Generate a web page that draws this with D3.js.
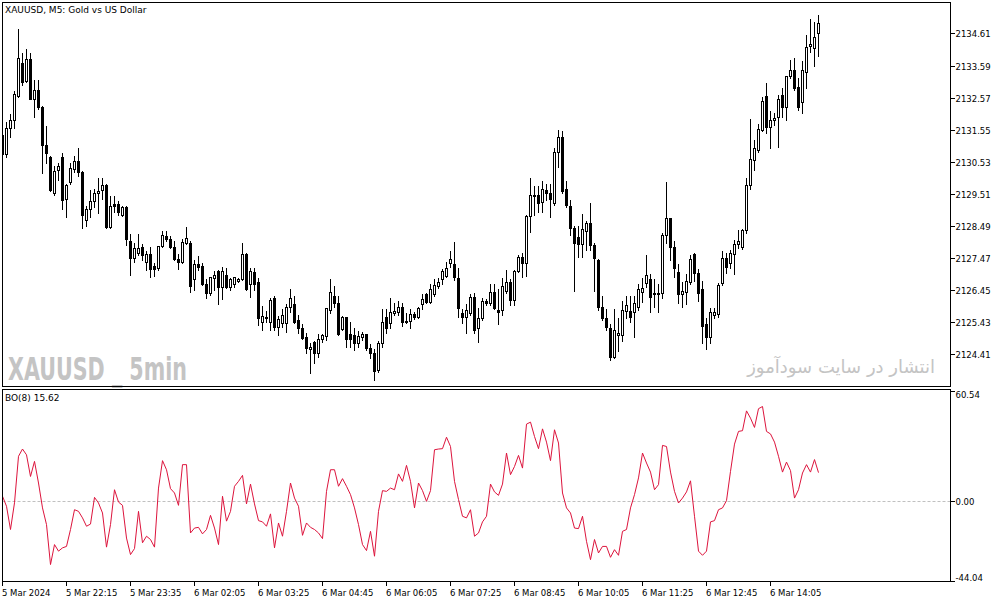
<!DOCTYPE html>
<html>
<head>
<meta charset="utf-8">
<script src="https://cdn.jsdelivr.net/npm/d3@7"></script>
<style>
    body { margin: 0; background: #fff; }
    svg text { font-family: "DejaVu Sans", Tahoma, sans-serif; fill: #000; }
</style>
</head>
<body>
<svg id="chart" width="1003" height="603"></svg>
<script>
// XAUUSD M5 candles (prices)
const openP = [
    2131.38, 2130.78, 2131.60, 2131.86, 2132.62, 2133.67, 2133.10, 2133.79, 2132.52, 2132.81,
    2132.27, 2131.06, 2130.68, 2129.54, 2130.27, 2130.68, 2129.35, 2129.89, 2130.30, 2130.55,
    2130.20, 2128.68, 2129.03, 2129.28, 2129.54, 2129.63, 2129.79, 2128.46, 2129.19, 2129.19,
    2128.84, 2129.09, 2128.01, 2127.47, 2127.63, 2127.82, 2127.34, 2127.60, 2127.22, 2127.15,
    2127.85, 2128.17, 2128.07, 2127.82, 2127.44, 2127.34, 2127.95, 2127.95, 2126.80, 2127.28,
    2127.22, 2126.64, 2126.36, 2126.83, 2127.06, 2126.55, 2126.93, 2126.55, 2126.64, 2126.74,
    2126.80, 2127.60, 2126.64, 2127.03, 2126.71, 2125.44, 2125.56, 2125.44, 2126.20, 2125.28,
    2125.40, 2125.40, 2125.91, 2126.01, 2125.50, 2125.25, 2124.96, 2124.58, 2124.80, 2124.45,
    2124.90, 2124.99, 2125.82, 2126.26, 2126.04, 2125.21, 2125.60, 2125.06, 2125.02, 2124.77,
    2124.96, 2125.06, 2124.61, 2124.45, 2123.91, 2124.77, 2125.60, 2125.40, 2125.72, 2125.75,
    2125.91, 2125.47, 2125.47, 2125.69, 2125.60, 2126.01, 2126.33, 2126.07, 2126.33, 2126.58,
    2126.80, 2126.90, 2127.31, 2127.28, 2126.83, 2125.72, 2125.60, 2125.72, 2126.23, 2125.25,
    2125.56, 2126.10, 2126.04, 2126.39, 2125.82, 2125.82, 2126.42, 2126.71, 2126.14, 2127.06,
    2127.50, 2127.31, 2128.81, 2129.44, 2129.47, 2129.25, 2129.63, 2129.54, 2129.22, 2130.84,
    2131.32, 2129.66, 2129.12, 2128.42, 2128.14, 2127.92, 2128.33, 2128.58, 2127.88, 2127.41,
    2125.91, 2125.56, 2125.25, 2124.32, 2125.02, 2125.02, 2125.79, 2125.79, 2125.75, 2125.91,
    2126.39, 2126.68, 2126.80, 2126.36, 2126.33, 2126.36, 2128.20, 2128.74, 2127.82, 2127.03,
    2126.33, 2126.39, 2126.71, 2127.60, 2126.99, 2126.49, 2125.37, 2124.96, 2125.66, 2125.69,
    2126.68, 2127.47, 2127.31, 2127.60, 2127.92, 2127.82, 2128.36, 2129.79, 2130.59, 2130.90,
    2131.54, 2132.62, 2131.63, 2131.86, 2131.95, 2132.65, 2132.27, 2133.25, 2133.45, 2132.91,
    2132.43, 2133.38, 2134.21, 2134.14, 2134.62
];
const highP = [
    2131.44, 2131.82, 2132.08, 2132.81, 2134.78, 2134.02, 2134.14, 2134.02, 2133.16, 2133.16,
    2132.33, 2131.70, 2130.74, 2130.43, 2130.52, 2130.84, 2129.85, 2130.52, 2130.74, 2131.00,
    2130.27, 2129.16, 2129.66, 2129.70, 2130.05, 2130.05, 2129.85, 2129.47, 2129.47, 2129.31,
    2129.16, 2129.16, 2128.27, 2127.98, 2128.27, 2127.95, 2127.73, 2127.85, 2127.34, 2127.88,
    2128.36, 2128.36, 2128.20, 2128.04, 2127.63, 2128.11, 2128.49, 2128.04, 2127.44, 2127.57,
    2127.34, 2126.83, 2126.90, 2127.09, 2127.12, 2127.22, 2127.19, 2126.87, 2126.90, 2126.87,
    2127.98, 2127.66, 2127.19, 2127.19, 2126.87, 2125.98, 2125.82, 2126.23, 2126.30, 2125.66,
    2125.88, 2126.04, 2126.52, 2126.30, 2125.69, 2125.40, 2125.12, 2124.80, 2124.87, 2125.09,
    2125.09, 2125.91, 2126.83, 2126.61, 2126.30, 2125.66, 2125.63, 2125.47, 2125.28, 2125.18,
    2125.15, 2125.09, 2124.77, 2124.61, 2124.87, 2125.88, 2125.88, 2126.23, 2126.07, 2126.14,
    2126.07, 2125.75, 2125.88, 2125.79, 2125.94, 2126.36, 2126.39, 2126.68, 2126.83, 2126.87,
    2127.15, 2127.38, 2127.73, 2128.01, 2127.19, 2125.88, 2126.04, 2126.36, 2126.39, 2125.91,
    2126.23, 2126.20, 2126.68, 2126.68, 2126.52, 2126.87, 2127.12, 2126.83, 2127.12, 2127.60,
    2127.66, 2128.87, 2130.05, 2129.79, 2129.79, 2129.95, 2129.85, 2129.85, 2131.00, 2131.57,
    2131.54, 2129.95, 2129.35, 2128.52, 2128.52, 2128.90, 2128.68, 2129.25, 2127.98, 2127.47,
    2126.30, 2125.88, 2125.40, 2125.88, 2125.60, 2126.14, 2126.30, 2126.30, 2126.30, 2126.68,
    2126.87, 2127.60, 2126.99, 2126.83, 2126.68, 2128.30, 2129.92, 2128.77, 2128.04, 2127.31,
    2126.74, 2126.99, 2127.60, 2127.66, 2127.15, 2126.77, 2125.60, 2125.91, 2125.91, 2126.71,
    2127.73, 2127.66, 2127.76, 2128.07, 2128.39, 2128.42, 2130.05, 2131.92, 2131.25, 2131.76,
    2132.62, 2133.06, 2132.17, 2132.11, 2132.68, 2132.91, 2133.29, 2133.79, 2133.86, 2133.22,
    2133.76, 2134.59, 2135.10, 2135.00, 2135.22
];
const lowP = [
    2130.71, 2130.68, 2131.32, 2131.60, 2132.59, 2132.97, 2133.06, 2132.52, 2131.95, 2132.21,
    2130.17, 2130.49, 2129.60, 2129.47, 2129.95, 2129.03, 2128.77, 2129.82, 2130.20, 2130.08,
    2128.42, 2128.49, 2128.77, 2129.09, 2128.90, 2129.35, 2128.42, 2128.42, 2128.93, 2128.84,
    2128.81, 2127.88, 2126.93, 2127.34, 2127.57, 2127.41, 2127.09, 2126.87, 2126.90, 2127.09,
    2127.82, 2128.01, 2127.79, 2127.41, 2127.12, 2127.31, 2127.92, 2126.39, 2126.45, 2127.09,
    2126.61, 2126.20, 2126.30, 2126.45, 2126.01, 2126.17, 2126.52, 2126.45, 2126.55, 2126.71,
    2126.77, 2126.45, 2126.23, 2126.45, 2125.34, 2125.18, 2125.44, 2125.18, 2125.18, 2125.02,
    2125.28, 2125.12, 2125.75, 2125.40, 2125.09, 2124.90, 2124.45, 2123.82, 2124.13, 2124.32,
    2124.80, 2124.87, 2125.72, 2125.91, 2125.02, 2125.18, 2124.64, 2124.64, 2124.55, 2124.64,
    2124.87, 2124.55, 2124.29, 2123.59, 2123.85, 2124.64, 2125.09, 2125.25, 2125.66, 2125.66,
    2125.31, 2125.40, 2125.25, 2125.53, 2125.56, 2125.85, 2126.04, 2126.04, 2126.26, 2126.52,
    2126.64, 2126.87, 2127.19, 2126.77, 2125.60, 2125.40, 2125.09, 2125.66, 2125.09, 2124.80,
    2125.50, 2125.98, 2125.98, 2125.85, 2125.37, 2125.66, 2126.36, 2125.98, 2125.98, 2127.03,
    2126.87, 2126.90, 2128.30, 2128.84, 2128.93, 2128.93, 2129.31, 2128.77, 2129.16, 2130.36,
    2129.54, 2129.09, 2128.20, 2126.42, 2127.50, 2127.50, 2127.73, 2127.73, 2126.42, 2125.82,
    2125.50, 2125.18, 2124.23, 2124.29, 2124.52, 2124.83, 2125.56, 2125.44, 2124.96, 2125.82,
    2126.07, 2126.55, 2125.75, 2125.91, 2125.75, 2126.20, 2127.95, 2127.41, 2126.87, 2126.04,
    2125.91, 2126.01, 2126.64, 2126.74, 2126.10, 2124.77, 2124.58, 2124.77, 2125.56, 2125.60,
    2126.61, 2126.99, 2127.15, 2126.96, 2127.79, 2127.76, 2128.27, 2129.66, 2130.27, 2130.84,
    2131.51, 2131.44, 2130.97, 2131.70, 2131.00, 2131.95, 2131.86, 2133.19, 2132.81, 2132.17,
    2132.08, 2132.87, 2134.02, 2133.57, 2133.89
];
const closeP = [
    2130.78, 2131.60, 2131.86, 2132.68, 2133.83, 2133.06, 2133.79, 2132.52, 2132.81, 2132.27,
    2131.06, 2130.81, 2129.63, 2130.24, 2130.39, 2129.31, 2129.79, 2130.33, 2130.55, 2130.20,
    2128.84, 2129.03, 2129.28, 2129.54, 2129.60, 2129.79, 2128.46, 2129.12, 2129.12, 2128.93,
    2129.09, 2128.07, 2127.47, 2127.79, 2127.79, 2127.57, 2127.60, 2127.12, 2127.12, 2127.85,
    2128.20, 2128.07, 2127.82, 2127.44, 2127.34, 2127.98, 2128.11, 2126.58, 2127.28, 2127.19,
    2126.64, 2126.36, 2126.87, 2126.93, 2126.55, 2127.06, 2126.55, 2126.80, 2126.87, 2126.80,
    2127.60, 2126.49, 2127.06, 2126.64, 2125.56, 2125.63, 2125.60, 2126.14, 2125.28, 2125.53,
    2125.66, 2125.91, 2126.20, 2125.44, 2125.25, 2124.93, 2124.61, 2124.64, 2124.45, 2124.90,
    2125.02, 2125.88, 2126.39, 2126.04, 2125.06, 2125.60, 2124.90, 2124.90, 2124.77, 2124.99,
    2125.06, 2124.61, 2124.45, 2123.88, 2124.77, 2125.44, 2125.25, 2125.75, 2125.79, 2125.91,
    2125.44, 2125.44, 2125.69, 2125.60, 2125.88, 2126.17, 2126.07, 2126.49, 2126.61, 2126.71,
    2127.06, 2127.15, 2127.44, 2126.87, 2125.88, 2125.60, 2125.82, 2126.23, 2125.18, 2125.56,
    2126.10, 2126.04, 2126.39, 2125.88, 2125.75, 2126.58, 2126.71, 2126.14, 2127.06, 2127.50,
    2127.31, 2128.81, 2129.47, 2129.47, 2129.22, 2129.66, 2129.54, 2129.35, 2130.84, 2131.32,
    2129.60, 2129.16, 2128.42, 2127.95, 2127.92, 2128.39, 2128.58, 2127.88, 2127.47, 2125.91,
    2125.56, 2125.28, 2124.32, 2125.18, 2125.09, 2125.82, 2125.98, 2125.60, 2126.04, 2126.49,
    2126.52, 2126.93, 2126.23, 2126.33, 2126.36, 2128.20, 2128.74, 2127.82, 2127.15, 2126.33,
    2126.42, 2126.74, 2127.44, 2126.99, 2126.36, 2125.31, 2124.96, 2125.75, 2125.75, 2126.61,
    2127.47, 2127.19, 2127.63, 2127.92, 2128.01, 2128.36, 2129.79, 2130.62, 2130.97, 2131.57,
    2132.46, 2131.63, 2131.86, 2131.92, 2132.52, 2132.27, 2133.25, 2133.45, 2132.87, 2132.27,
    2133.45, 2134.18, 2134.27, 2134.49, 2134.94
];

// BO(8) oscillator, one value per candle
const boValues = [
    2.6, -2.9, -15.7, -1.0, 24.6, 28.6, 25.4, 13.5, 21.8, 9.9,
    -3.8, -13.0, -35.0, -24.0, -27.6, -25.8, -25.0, -15.7, -4.8, -5.7,
    -9.3, -13.9, -12.7, 2.0, -1.1, -6.6, -25.4, -13.0, 6.2, -0.6,
    -2.4, -20.4, -29.5, -26.2, -5.7, -23.0, -19.4, -21.2, -25.4, 7.1,
    22.2, 17.2, 6.8, 4.4, -2.4, 20.0, 20.0, -17.6, -14.9, -14.5,
    -18.1, -15.7, -7.9, -14.9, -24.0, 2.6, -11.1, -5.7, 8.1, 10.8,
    14.1, -1.6, 9.3, -1.6, -10.8, -11.5, -13.9, -7.1, -25.8, -12.1,
    -19.4, -5.7, 9.9, 1.6, -2.9, -18.9, -12.1, -14.5, -15.7, -17.6,
    -20.7, 5.3, 17.2, 17.2, 8.1, 12.3, 8.1, 3.5, -3.8, -13.0,
    -24.0, -27.3, -16.7, -30.4, -5.7, 5.7, 5.3, 7.1, 6.2, 14.9,
    10.8, 19.6, 10.8, -3.8, 9.9, 5.7, -0.2, 5.7, 28.2, 28.6,
    28.8, 35.1, 30.0, 10.8, 0.8, -8.4, -9.3, -4.8, -19.4, -17.6,
    -11.5, -8.4, 9.3, 5.0, 3.1, 9.3, 26.4, 14.5, 19.0, 25.1,
    18.1, 42.3, 43.4, 35.5, 28.8, 39.7, 32.4, 22.2, 39.2, 31.9,
    4.4, -3.8, -6.6, -14.9, -15.2, -8.4, -22.2, -32.3, -21.2, -28.6,
    -25.0, -25.0, -31.0, -26.8, -29.9, -16.7, -15.7, -3.8, 3.5, 12.7,
    26.4, 20.9, 15.9, 6.2, 9.0, 30.6, 30.0, 15.9, 5.3, -1.1,
    1.6, 5.0, 11.1, -8.4, -27.6, -29.9, -27.6, -11.5, -10.8, -4.8,
    -3.8, 0.2, 16.3, 31.3, 38.3, 38.7, 49.6, 45.6, 40.5, 50.8,
    52.0, 38.3, 36.9, 32.4, 24.6, 15.9, 21.4, 16.7, 1.6, 6.2,
    15.4, 20.0, 15.9, 22.8, 15.62
];

const priceTicks = [2134.61, 2133.59, 2132.57, 2131.55, 2130.53, 2129.51, 2128.49, 2127.47, 2126.45, 2125.43, 2124.41];
const boTicks = [60.54, 0, -44.04];
const timeLabels = [
    "5 Mar 2024", "5 Mar 22:15", "5 Mar 23:35", "6 Mar 02:05", "6 Mar 03:25", "6 Mar 04:45",
    "6 Mar 06:05", "6 Mar 07:25", "6 Mar 08:45", "6 Mar 10:05", "6 Mar 11:25", "6 Mar 12:45", "6 Mar 14:05"
];
const barsPerLabel = 16;

const left = 2.5, right = 950.5;
const mainTop = 2.5, mainBottom = 386.5;
const subTop = 389.5, subBottom = 581.5;

const svg = d3.select("#chart");

let x = d3.scaleLinear()
    .domain([0, closeP.length - 1])
    .range([2.5, 2.5 + 4 * (closeP.length - 1)]);

let y = d3.scaleLinear()
    .domain([2123.37, 2135.61])
    .range([387, 2]);

let yBo = d3.scaleLinear()
    .domain([-44.04, 60.54])
    .range([581, 391]);

svg.append("rect")
    .attr("width", 1003)
    .attr("height", 603)
    .attr("fill", "#fff");

let defs = svg.append("defs");
defs.append("clipPath").attr("id", "clipMain")
    .append("rect")
    .attr("x", left).attr("y", mainTop)
    .attr("width", right - left).attr("height", mainBottom - mainTop);
defs.append("clipPath").attr("id", "clipSub")
    .append("rect")
    .attr("x", left).attr("y", subTop)
    .attr("width", right - left).attr("height", subBottom - subTop);

// watermarks
svg.append("text")
    .attr("x", 8)
    .attr("y", 380)
    .attr("textLength", 179)
    .attr("lengthAdjust", "spacingAndGlyphs")
    .style("font-family", "'Liberation Sans Narrow', 'DejaVu Sans Condensed', sans-serif")
    .style("font-weight", "bold")
    .style("font-size", "32px")
    .style("fill", "#c4c4c4")
    .text("XAUUSD _ 5min");

svg.append("text")
    .attr("x", 935)
    .attr("y", 373)
    .attr("text-anchor", "end")
    .style("font-size", "18px")
    .style("fill", "#c4c4c4")
    .text("انتشار در سایت سودآموز");

// candles
let bars = d3.range(closeP.length).map(i => ({
    i: i, o: openP[i], h: highP[i], l: lowP[i], c: closeP[i]
}));

let candles = svg.append("g")
    .attr("clip-path", "url(#clipMain)")
    .attr("shape-rendering", "crispEdges");

candles.selectAll(".wick")
    .data(bars)
    .enter()
    .append("line")
    .attr("class", "wick")
    .attr("x1", d => x(d.i))
    .attr("x2", d => x(d.i))
    .attr("y1", d => Math.round(y(d.h)) + 0.5)
    .attr("y2", d => Math.round(y(d.l)) + 0.5)
    .attr("stroke", "#000");

candles.selectAll(".body")
    .data(bars)
    .enter()
    .append("path")
    .attr("class", "body")
    .attr("d", function (d) {
        let top = Math.round(y(Math.max(d.o, d.c))) + 0.5;
        let bot = Math.round(y(Math.min(d.o, d.c))) + 0.5;
        let cx = x(d.i);
        return `M${cx - 1},${top}H${cx + 1}V${bot}H${cx - 1}Z`;
    })
    .attr("fill", d => d.c >= d.o ? "#fff" : "#000")
    .attr("stroke", "#000");

// indicator
svg.append("line")
    .attr("x1", left).attr("x2", right)
    .attr("y1", Math.round(yBo(0)) + 0.5).attr("y2", Math.round(yBo(0)) + 0.5)
    .attr("stroke", "#c0c0c0")
    .attr("stroke-dasharray", "3,2");

let boLine = d3.line()
    .x((d, i) => x(i))
    .y(d => yBo(d));

svg.append("path")
    .datum(boValues)
    .attr("clip-path", "url(#clipSub)")
    .attr("d", boLine)
    .attr("fill", "none")
    .attr("stroke", "#dc143c")
    .attr("stroke-width", 1);

// frames
let frames = svg.append("g").attr("shape-rendering", "crispEdges");
frames.append("rect")
    .attr("x", left).attr("y", mainTop)
    .attr("width", right - left).attr("height", mainBottom - mainTop)
    .attr("fill", "none").attr("stroke", "#000");
frames.append("rect")
    .attr("x", left).attr("y", subTop)
    .attr("width", right - left).attr("height", subBottom - subTop)
    .attr("fill", "none").attr("stroke", "#000");

// price axis
let priceAxis = svg.append("g").attr("shape-rendering", "crispEdges");
priceTicks.forEach(function (p) {
    let yy = Math.round(y(p)) + 0.5;
    priceAxis.append("line")
        .attr("x1", right).attr("x2", right + 4)
        .attr("y1", yy).attr("y2", yy)
        .attr("stroke", "#000");
    priceAxis.append("text")
        .attr("x", right + 5)
        .attr("y", yy + 3)
        .style("font-size", "8.5px")
        .text(p.toFixed(2));
});

// BO axis
boTicks.forEach(function (v, k) {
    let yy = Math.round(yBo(v)) + 0.5;
    priceAxis.append("line")
        .attr("x1", right).attr("x2", right + 4)
        .attr("y1", yy).attr("y2", yy)
        .attr("stroke", "#000");
    let ty = yy + 3;
    if (k === 0) ty = yy + 6;
    if (k === boTicks.length - 1) ty = yy - 1;
    priceAxis.append("text")
        .attr("x", right + 5)
        .attr("y", ty)
        .style("font-size", "8.5px")
        .text(v.toFixed(2));
});

// time axis
timeLabels.forEach(function (lab, k) {
    let xx = x(k * barsPerLabel);
    priceAxis.append("line")
        .attr("x1", xx).attr("x2", xx)
        .attr("y1", subBottom).attr("y2", subBottom + 4)
        .attr("stroke", "#000");
    priceAxis.append("text")
        .attr("x", xx - 0.5)
        .attr("y", 596)
        .style("font-size", "8.5px")
        .text(lab);
});

// titles
svg.append("text")
    .attr("x", 5)
    .attr("y", 13)
    .style("font-size", "9px")
    .text("XAUUSD, M5:  Gold vs US Dollar");

svg.append("text")
    .attr("x", 5)
    .attr("y", 401)
    .style("font-size", "9px")
    .text("BO(8) " + boValues[boValues.length - 1].toFixed(2));
</script>
</body>
</html>
